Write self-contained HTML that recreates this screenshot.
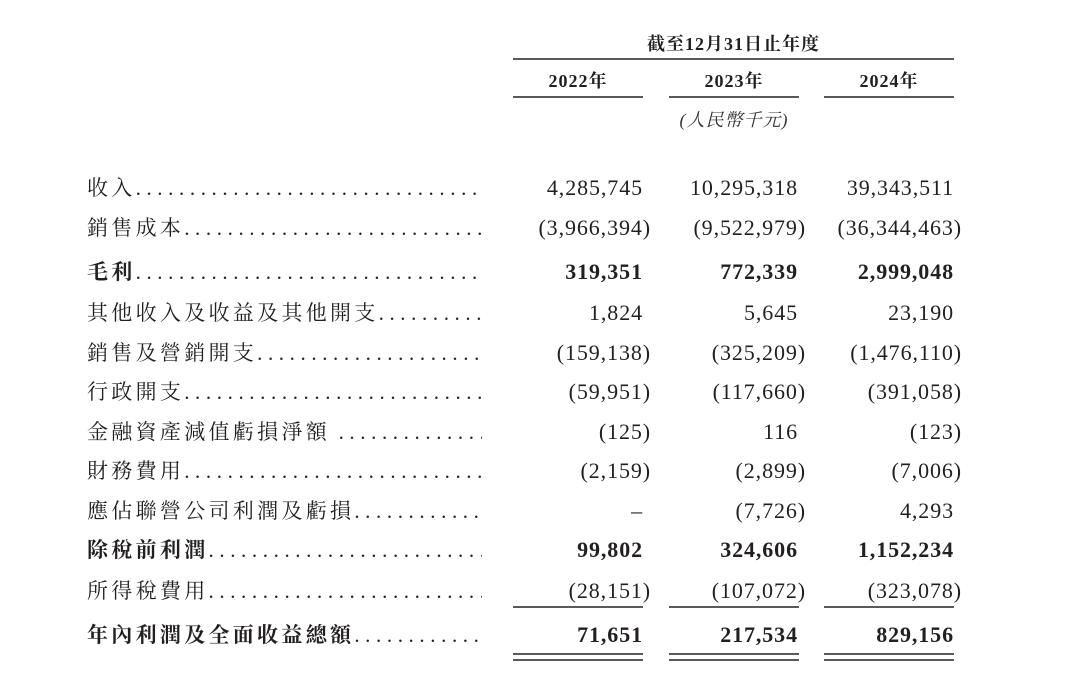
<!DOCTYPE html>
<html><head><meta charset="utf-8"><style>
body{margin:0;width:1080px;height:697px;background:#fff;position:relative;overflow:hidden;color:#231f20;font-family:"Liberation Serif","Noto Serif CJK SC",serif}
.a{position:absolute;white-space:nowrap}
.lab{left:87px;width:395px;overflow:hidden;font-size:21px;letter-spacing:3.3px;font-family:"Liberation Serif","Noto Serif CJK SC",serif;line-height:24px}
.lab .d{letter-spacing:5.6px}
.n{font-size:22px;letter-spacing:0.9px;text-align:right;line-height:24px}
.b{font-weight:bold}
.l{position:absolute;height:2px;background:#5a5a5a}
.h{font-weight:bold;font-size:18px;letter-spacing:1px;text-align:center;line-height:20px;font-family:"Liberation Serif","Noto Serif CJK SC",serif}
</style></head><body>
<div class="a h" style="left:513px;width:441px;top:34px">截至12月31日止年度</div>
<div class="l" style="left:513px;width:441px;top:58px"></div>
<div class="a h" style="left:513px;width:130px;top:71px">2022年</div>
<div class="a h" style="left:669px;width:130px;top:71px">2023年</div>
<div class="a h" style="left:824px;width:130px;top:71px">2024年</div>
<div class="l" style="left:513px;width:130px;top:96px"></div>
<div class="l" style="left:669px;width:130px;top:96px"></div>
<div class="l" style="left:824px;width:130px;top:96px"></div>
<div class="a" style="left:669px;width:130px;top:106px;text-align:center;font-style:italic;font-size:18px;letter-spacing:1px;color:#333;font-family:'Liberation Serif','Noto Serif CJK SC',serif">(人民幣千元)</div>
<div id="rows"></div>
<div class="l" style="left:513px;width:130px;top:606px;height:1.5px"></div>
<div class="l" style="left:669px;width:130px;top:606px;height:1.5px"></div>
<div class="l" style="left:824px;width:130px;top:606px;height:1.5px"></div>
<div class="l" style="left:513px;width:130px;top:653px;height:1.5px"></div>
<div class="l" style="left:669px;width:130px;top:653px;height:1.5px"></div>
<div class="l" style="left:824px;width:130px;top:653px;height:1.5px"></div>
<div class="l" style="left:513px;width:130px;top:659px;height:1.5px"></div>
<div class="l" style="left:669px;width:130px;top:659px;height:1.5px"></div>
<div class="l" style="left:824px;width:130px;top:659px;height:1.5px"></div>
<script>
var R=[[188,"收入","4,285,745","10,295,318","39,343,511",0],
[228,"銷售成本","(3,966,394)","(9,522,979)","(36,344,463)",0],
[272,"毛利","319,351","772,339","2,999,048",1],
[313,"其他收入及收益及其他開支","1,824","5,645","23,190",0],
[353,"銷售及營銷開支","(159,138)","(325,209)","(1,476,110)",0],
[392,"行政開支","(59,951)","(117,660)","(391,058)",0],
[432,"金融資產減值虧損淨額 ","(125)","116","(123)",0],
[471,"財務費用","(2,159)","(2,899)","(7,006)",0],
[511,"應佔聯營公司利潤及虧損","–","(7,726)","4,293",0],
[550,"除稅前利潤","99,802","324,606","1,152,234",1],
[591,"所得稅費用","(28,151)","(107,072)","(323,078)",0],
[635,"年內利潤及全面收益總額","71,651","217,534","829,156",1]];
var rt=[643,798,954],h="";
R.forEach(function(r){var t=r[0]-12;
h+='<div class="a lab'+(r[5]?' b':'')+'" style="top:'+t+'px">'+r[1]+'<span class="d" style="font-weight:normal">'+'.'.repeat(60)+'</span></div>';
for(var i=0;i<3;i++){var v=r[2+i],e=rt[i]+(v[0]=="("?8:0);
h+='<div class="a n'+(r[5]?' b':'')+'" style="top:'+t+'px;right:'+(1080-e)+'px">'+v+'</div>';}});
document.getElementById("rows").innerHTML=h;
</script>
</body></html>
